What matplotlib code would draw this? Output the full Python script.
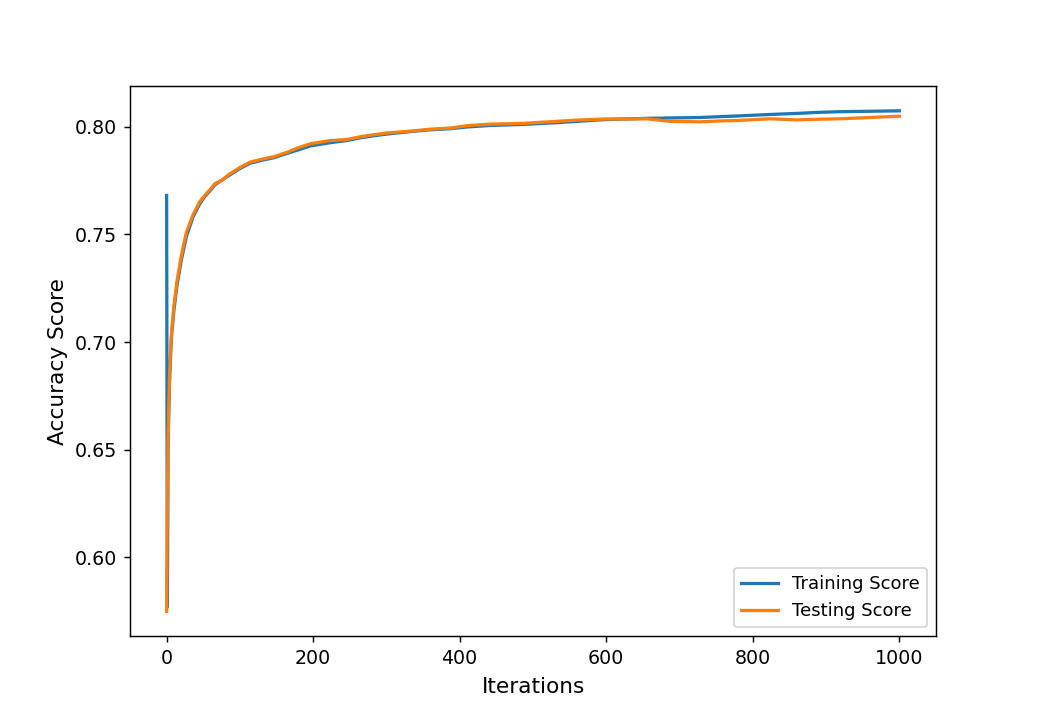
import matplotlib
matplotlib.use("Agg")
import matplotlib.pyplot as plt

# values (iteration -> accuracy)
iterations = [0, 1, 2, 3, 4, 5, 7, 10, 14, 20, 27, 36, 45, 52, 60, 66, 75, 86,
              100, 114, 132, 146, 164, 178, 196, 223, 246, 268, 300, 337, 360,
              387, 410, 441, 487, 532, 560, 596, 625, 655, 687, 728, 755, 778,
              823, 860, 890, 919, 960, 1000]

train_score = [0.768, 0.577, 0.650, 0.669, 0.682, 0.691, 0.704, 0.715, 0.726,
               0.738, 0.749, 0.758, 0.764, 0.7675, 0.7705, 0.773, 0.775,
               0.7775, 0.7805, 0.783, 0.7845, 0.7855, 0.7875, 0.789, 0.791,
               0.7925, 0.7935, 0.795, 0.7965, 0.7978, 0.7985, 0.799, 0.7998,
               0.8005, 0.801, 0.8018, 0.8024, 0.8032, 0.8035, 0.8038, 0.804,
               0.8042, 0.8046, 0.8049, 0.8056, 0.8061, 0.8066, 0.8069, 0.8071,
               0.8073]

test_score = [0.575, 0.625, 0.655, 0.672, 0.685, 0.694, 0.706, 0.717, 0.728,
              0.740, 0.751, 0.759, 0.765, 0.768, 0.771, 0.7735, 0.775, 0.778,
              0.781, 0.7835, 0.785, 0.786, 0.788, 0.790, 0.792, 0.7935, 0.794,
              0.7955, 0.797, 0.798, 0.7988, 0.7993, 0.8004, 0.8011, 0.8015,
              0.8024, 0.803, 0.8035, 0.8035, 0.8036, 0.8024, 0.8022, 0.8026,
              0.8028, 0.8036, 0.8031, 0.8034, 0.8036, 0.8042, 0.8048]

fig, ax = plt.subplots(figsize=(8, 5.5), dpi=130)
ax.plot(iterations, train_score, lw=1.8, label="Training Score")
ax.plot(iterations, test_score, lw=1.8, label="Testing Score")
ax.tick_params(labelsize=10.5)
ax.set_xlabel("Iterations", fontsize=12, labelpad=5)
ax.set_ylabel("Accuracy Score", fontsize=12, labelpad=4)
ax.legend(loc="lower right", fontsize=10)
fig.savefig("out.png", dpi=130)
